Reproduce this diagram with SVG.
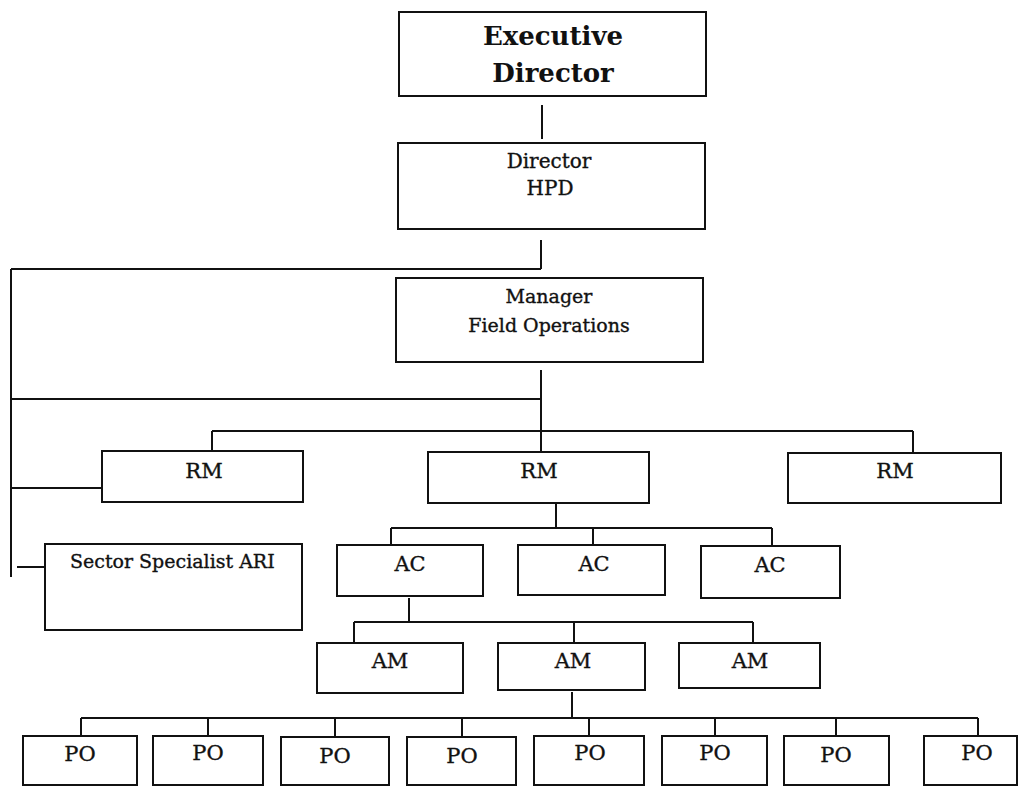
<svg xmlns="http://www.w3.org/2000/svg" width="1020" height="786" viewBox="0 0 1020 786">
  <style>
    .box { fill: #ffffff; stroke: #111111; stroke-width: 2; }
    .wire { fill: none; stroke: #111111; stroke-width: 2; }
    .lbl { font-family: "DejaVu Serif", "Liberation Serif", serif; font-size: 19px; fill: #111111; stroke: #111111; stroke-width: 0.35; text-anchor: middle; }
    .abbr { font-size: 21px; }
    .head { font-family: "DejaVu Serif", "Liberation Serif", serif; font-size: 26px; font-weight: bold; fill: #111111; text-anchor: middle; }
  </style>
  <rect x="0" y="0" width="1020" height="786" fill="#ffffff"/>

  <!-- connectors -->
  <g id="connectors" class="wire">
    <path d="M542 105 V139"/>
    <path d="M541 240 V269 M11 269 H541 M11 269 V577"/>
    <path d="M541 370 V452 M11 399 H541"/>
    <path d="M212 431 H913 M212 431 V451 M913 431 V453"/>
    <path d="M11 488 H102"/>
    <path d="M17 567 H46"/>
    <path d="M556 504 V528 M391 528 H772 M391 528 V545 M593 528 V545 M772 528 V546"/>
    <path d="M409 598 V622 M354 622 H753 M354 622 V643 M574 622 V643 M753 622 V643"/>
    <path d="M572 692 V718 M81 718 H978"/>
    <path d="M81 718 V736 M208 718 V736 M335 718 V736 M462 718 V736 M589 718 V736 M715 718 V736 M836 718 V736 M978 718 V736"/>
  </g>

  <!-- top of the chart -->
  <g id="executive-director">
    <rect class="box" x="399" y="12" width="307" height="84"/>
    <text class="head" x="553" y="45">Executive</text>
    <text class="head" x="553" y="82">Director</text>
  </g>
  <g id="director-hpd">
    <rect class="box" x="398" y="143" width="307" height="86"/>
    <text class="lbl" x="549" y="168" style="font-size:20px">Director</text>
    <text class="lbl" x="550" y="195" style="font-size:20px">HPD</text>
  </g>
  <g id="manager-field-operations">
    <rect class="box" x="396" y="278" width="307" height="84"/>
    <text class="lbl" x="549" y="303">Manager</text>
    <text class="lbl" x="549" y="332">Field Operations</text>
  </g>

  <!-- regional managers -->
  <g id="rm-1">
    <rect class="box" x="102" y="451" width="201" height="51"/>
    <text class="lbl abbr" x="204" y="478">RM</text>
  </g>
  <g id="rm-2">
    <rect class="box" x="428" y="452" width="221" height="51"/>
    <text class="lbl abbr" x="539" y="478">RM</text>
  </g>
  <g id="rm-3">
    <rect class="box" x="788" y="453" width="213" height="50"/>
    <text class="lbl abbr" x="895" y="478">RM</text>
  </g>

  <g id="sector-specialist">
    <rect class="box" x="45" y="544" width="257" height="86"/>
    <text class="lbl" x="70" y="568" style="text-anchor:start">Sector Specialist ARI</text>
  </g>

  <!-- area coordinators -->
  <g id="ac-1">
    <rect class="box" x="337" y="545" width="146" height="51"/>
    <text class="lbl abbr" x="410" y="571">AC</text>
  </g>
  <g id="ac-2">
    <rect class="box" x="518" y="545" width="147" height="50"/>
    <text class="lbl abbr" x="594" y="571">AC</text>
  </g>
  <g id="ac-3">
    <rect class="box" x="701" y="546" width="139" height="52"/>
    <text class="lbl abbr" x="770" y="572">AC</text>
  </g>

  <!-- area managers -->
  <g id="am-1">
    <rect class="box" x="317" y="643" width="146" height="50"/>
    <text class="lbl abbr" x="390" y="668">AM</text>
  </g>
  <g id="am-2">
    <rect class="box" x="498" y="643" width="147" height="47"/>
    <text class="lbl abbr" x="573" y="668">AM</text>
  </g>
  <g id="am-3">
    <rect class="box" x="679" y="643" width="141" height="45"/>
    <text class="lbl abbr" x="750" y="668">AM</text>
  </g>

  <!-- project officers -->
  <g id="po-1"><rect class="box" x="23" y="736" width="114" height="49"/><text class="lbl abbr" x="80" y="761">PO</text></g>
  <g id="po-2"><rect class="box" x="153" y="736" width="110" height="49"/><text class="lbl abbr" x="208" y="760">PO</text></g>
  <g id="po-3"><rect class="box" x="281" y="737" width="108" height="48"/><text class="lbl abbr" x="335" y="763">PO</text></g>
  <g id="po-4"><rect class="box" x="407" y="737" width="109" height="48"/><text class="lbl abbr" x="462" y="763">PO</text></g>
  <g id="po-5"><rect class="box" x="534" y="736" width="110" height="49"/><text class="lbl abbr" x="590" y="760">PO</text></g>
  <g id="po-6"><rect class="box" x="662" y="736" width="105" height="49"/><text class="lbl abbr" x="715" y="760">PO</text></g>
  <g id="po-7"><rect class="box" x="784" y="736" width="105" height="49"/><text class="lbl abbr" x="836" y="762">PO</text></g>
  <g id="po-8"><rect class="box" x="924" y="736" width="93" height="49"/><text class="lbl abbr" x="977" y="760">PO</text></g>
</svg>
